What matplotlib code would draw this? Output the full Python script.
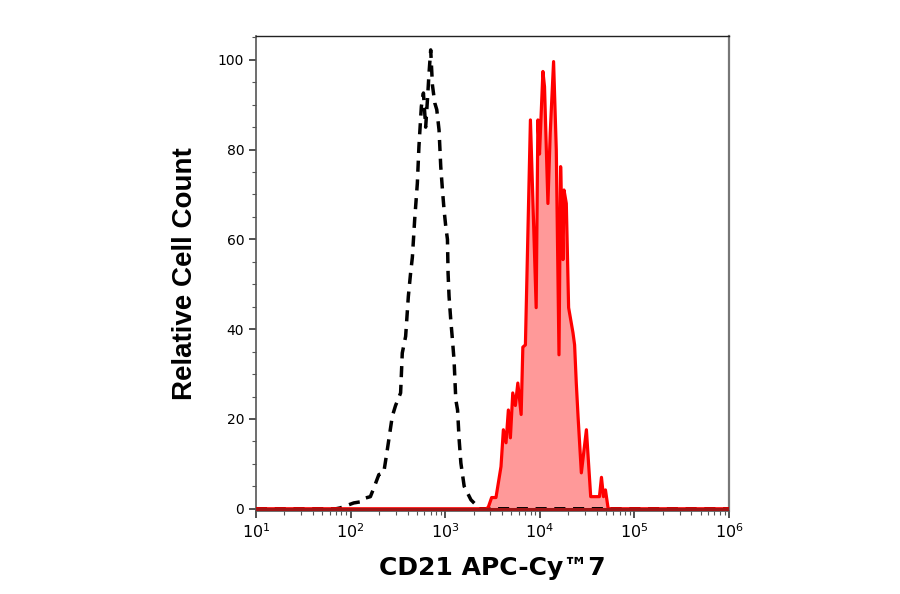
import numpy as np
import matplotlib
matplotlib.use("Agg")
import matplotlib.pyplot as plt
from matplotlib.ticker import LogLocator, MultipleLocator, NullFormatter

# isotype control (black dashed) - intensity vs relative count
ctrl_x = [10, 70, 78, 108, 132, 144, 162, 176, 199, 224, 244, 276, 299, 338, 352,
          382, 408, 431, 450, 476, 508, 528, 560, 589, 622, 649, 675, 703, 733,
          776, 815, 861, 898, 936, 973, 1014, 1057, 1073, 1099, 1146, 1194, 1242,
          1295, 1352, 1405, 1465, 1588, 1871, 2203, 2275, 1e6]
ctrl_y = [0, 0, 0.2, 1.3, 1.6, 2.4, 2.7, 4.6, 7.6, 8.0, 13, 20.6, 23, 25.8, 34.7,
          38.4, 47.3, 52.5, 56, 64.4, 72.5, 80.7, 89.6, 92.6, 85, 91, 97, 102.2,
          94.4, 90.4, 88.9, 84.4, 76.2, 71, 66.6, 62.9, 60, 52.5, 47.3, 42, 37.6,
          33, 24.3, 22, 15.4, 10.2, 5, 2, 0.5, 0, 0]

# CD21 stained sample (red)
cd21_x = [10, 2700, 2851, 3097, 3443, 3891, 4122, 4398, 4654, 4890, 5180, 5520,
          5861, 6353, 6622, 7047, 7962, 9159, 9550, 9933, 10795, 11220, 12190,
          12890, 13990, 14940, 15960, 16600, 17590, 18030, 19070, 20170, 22430,
          23330, 24310, 25390, 27500, 31100, 34530, 42720, 44870, 47120, 49430,
          52840, 1e6]
cd21_y = [0, 0, 0.3, 2.5, 2.5, 9.4, 17.6, 14.7, 22, 15.8, 25.8, 23,
          28, 21, 36, 36.5, 86.6, 44.8, 86.6, 79, 97.4, 94, 68,
          83.7, 99.6, 80, 34.3, 76.2, 55.5, 71, 68, 44.8, 39.2,
          36.5, 28, 20.5, 8, 17.6, 2.7, 2.7, 7, 2.7, 4.2,
          0, 0]

fig = plt.figure(figsize=(9, 5.94), dpi=100)
ax = fig.add_axes([0.2844, 0.1397, 0.8100 - 0.2844, 0.9394 - 0.1397])

ax.fill_between(cd21_x, cd21_y, 0, color="#ff9999", lw=0, zorder=1)
ax.plot(ctrl_x, ctrl_y, color="black", lw=2.5, dashes=(3.2, 2.2), zorder=3)
ax.plot(cd21_x, cd21_y, color="#ff0000", lw=2.3, zorder=4)
# dark red baseline along zero
ax.axhline(0, color="#a01414", lw=2.2, zorder=5)

ax.set_xscale("log")
ax.set_xlim(10, 1e6)
ax.set_ylim(-0.5, 105.3)

ax.xaxis.set_major_locator(LogLocator(base=10, numticks=10))
ax.xaxis.set_minor_locator(LogLocator(base=10, subs=np.arange(2, 10), numticks=20))
ax.xaxis.set_minor_formatter(NullFormatter())
ax.yaxis.set_major_locator(MultipleLocator(20))
ax.yaxis.set_minor_locator(MultipleLocator(5))

ax.tick_params(which="major", direction="out", length=5, width=1.2, color="#333333",
               labelsize=10)
ax.tick_params(which="minor", direction="out", length=3, width=0.8, color="#555555")
ax.tick_params(axis="x", which="major", labelsize=11.5, pad=3)

for s in ["left", "bottom"]:
    ax.spines[s].set_color("#555555")
    ax.spines[s].set_linewidth(1.2)
ax.spines["top"].set_color("#222222")
ax.spines["top"].set_linewidth(1.0)
ax.spines["right"].set_color("#777777")
ax.spines["right"].set_linewidth(1.6)

ax.set_xlabel("CD21 APC-Cy\u21227", fontsize=18, fontweight="bold",
              family="DejaVu Sans", labelpad=11)
ax.set_ylabel("Relative Cell Count", fontsize=20, fontweight="bold",
              family="Liberation Sans", labelpad=14)

fig.savefig("out.png", dpi=100, facecolor="white")
